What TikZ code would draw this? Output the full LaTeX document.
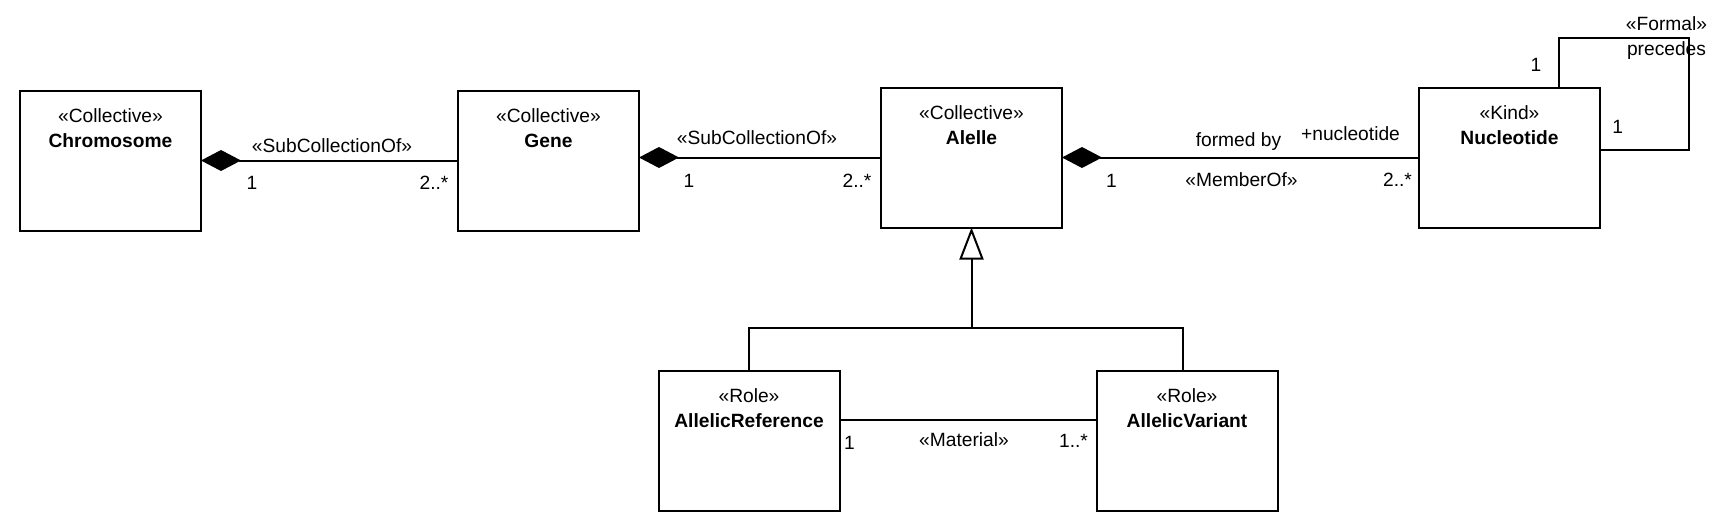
\documentclass[tikz,border=0pt]{standalone}
\usepackage{fontspec}
\setmainfont{Liberation Sans}
\usetikzlibrary{arrows.meta,positioning,calc}
\tikzstyle{umlclass} = [rectangle, draw=black, line width=1pt, inner sep=0pt, outer sep=0pt, minimum width=90.5pt, minimum height=70pt]
\tikzstyle{lbl} = [inner sep=0pt, text height=7pt, text depth=0pt]
\tikzstyle{assoc} = [line width=1pt]
\tikzstyle{compose} = [line width=1pt, {Diamond[length=20pt, width=10.5pt]}-]
\tikzstyle{generalize} = [line width=1pt, -{Triangle[open, length=16pt, width=12pt]}]
\newcommand{\classtext}[2]{\parbox[c][70pt][t]{90.5pt}{\centering\rule{0pt}{16pt}«#1»\\\textbf{#2}}}

\begin{document}
\begin{tikzpicture}[x=0.5pt, y=-0.5pt, font=\fontsize{9.6}{12.5}\selectfont]
\useasboundingbox (0,0) rectangle (1730,530);

% KLASSEN - obere Reihe
\node (chromosome) [umlclass] at (110.5,160.5) {\classtext{Collective}{Chromosome}};
\node (gene) [umlclass, right=128.5pt of chromosome] {\classtext{Collective}{Gene}};
\node (alelle) [umlclass, right=121pt of gene, yshift=1.5pt] {\classtext{Collective}{Alelle}};
\node (nucleotide) [umlclass, right=178.5pt of alelle] {\classtext{Kind}{Nucleotide}};

% ROLLEN - untere Reihe
\node (reference) [umlclass, below=71.5pt of alelle, xshift=-111.25pt] {\classtext{Role}{AllelicReference}};
\node (variant) [umlclass, right=128.5pt of reference] {\classtext{Role}{AllelicVariant}};

% KOMPOSITIONEN
\draw [compose] (chromosome.east) -- (gene.west)
  node [lbl, midway, xshift=1.25pt, yshift=7.75pt] {«SubCollectionOf»}
  node [lbl, pos=0, xshift=25.5pt, yshift=-10.75pt] {1}
  node [lbl, pos=1, xshift=-12pt, yshift=-10.75pt] {2..*};
\draw [compose] (gene.east |- alelle.west) -- (alelle.west)
  node [lbl, midway, xshift=-1.5pt, yshift=10pt] {«SubCollectionOf»}
  node [lbl, pos=0, xshift=25pt, yshift=-11.25pt] {1}
  node [lbl, pos=1, xshift=-12pt, yshift=-11.25pt] {2..*};
\draw [compose] (alelle.east) -- (nucleotide.west)
  node [lbl, midway, xshift=-1pt, yshift=8.9pt] {formed by}
  node [lbl, pos=1, xshift=-34.25pt, yshift=12.25pt] {+nucleotide}
  node [lbl, midway, xshift=0.5pt, yshift=-10.75pt] {«MemberOf»}
  node [lbl, pos=0, xshift=24.75pt, yshift=-11.25pt] {1}
  node [lbl, pos=1, xshift=-10.75pt, yshift=-11pt] {2..*};

% GENERALISIERUNG
\coordinate (fork) at ([yshift=-50pt]alelle.south);
\draw [generalize] (fork) -- (alelle.south);
\draw [assoc] (reference.north) |- (fork) -| ([xshift=-2.25pt]variant.north);

% MATERIAL
\draw [assoc] ([yshift=10.25pt]reference.east) -- ([yshift=10.25pt]reference.east -| variant.west)
  node [lbl, midway, xshift=-2pt, yshift=-9.5pt] {«Material»}
  node [lbl, pos=0, xshift=5pt, yshift=-11pt] {1}
  node [lbl, pos=1, xshift=-11.5pt, yshift=-10pt] {1..*};

% SELBSTBEZUG Nucleotide
\coordinate (loopstart) at ([xshift=24.75pt]nucleotide.north);
\coordinate (looptop) at ([yshift=25pt]loopstart);
\coordinate (loopend) at ([yshift=4pt]nucleotide.east);
\coordinate (loopright) at ([xshift=44.5pt]loopend);
\draw [assoc] (loopstart) -- (looptop) -| (loopright) -- (loopend);
\node (formal) [anchor=north, inner sep=0pt, align=center] at ($(looptop -| loopright)+(-11.25pt,10.75pt)$) {«Formal»\\precedes};
\node (topmult) [lbl] at ($(loopstart)+(-11.5pt,11.75pt)$) {1};
\node (rightmult) [lbl] at ($(loopend)+(8.9pt,11.75pt)$) {1};

\end{tikzpicture}
\end{document}
